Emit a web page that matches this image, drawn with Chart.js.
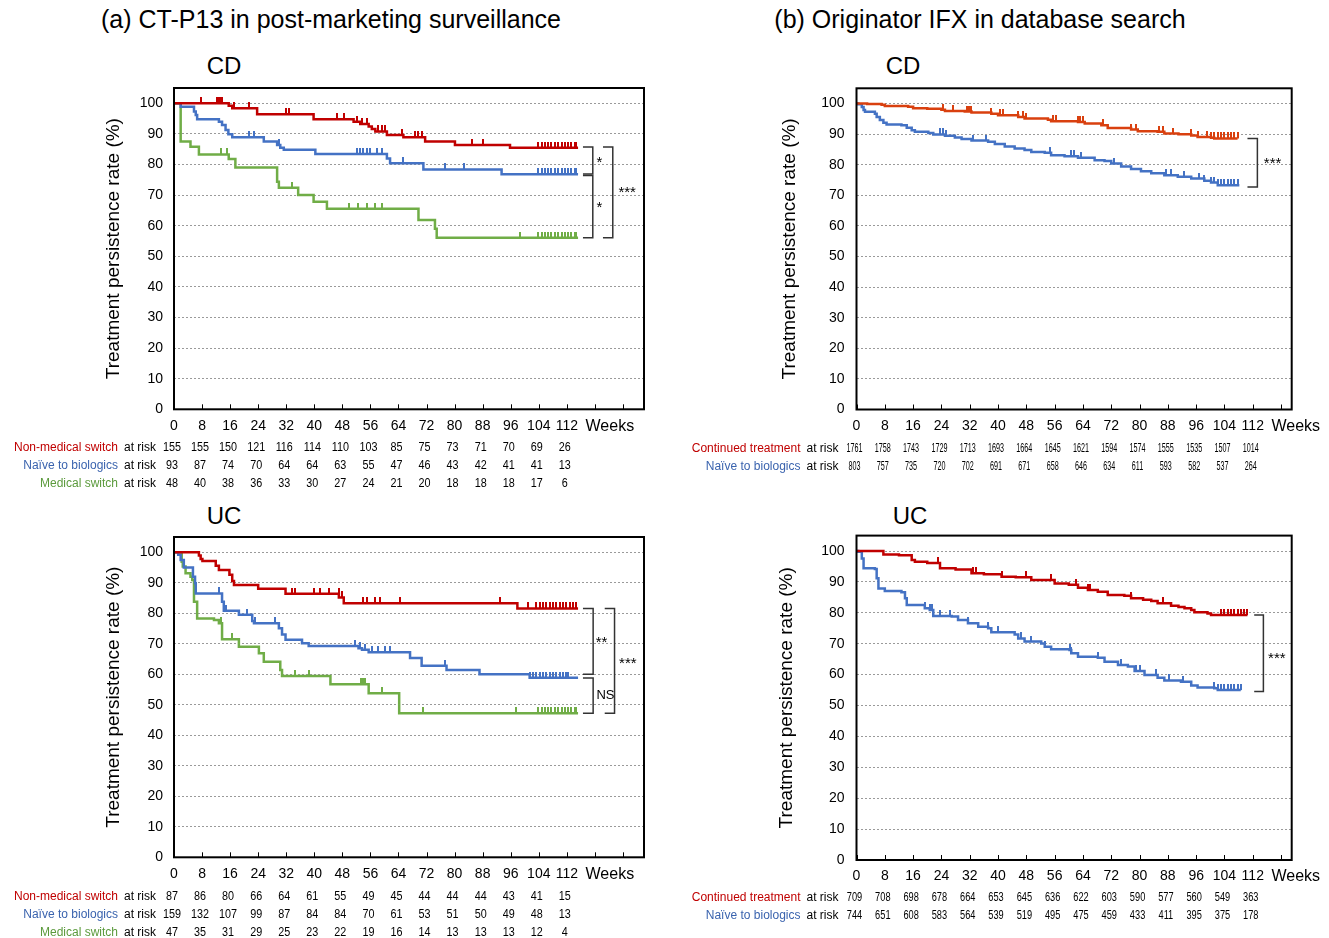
<!DOCTYPE html>
<html>
<head>
<meta charset="utf-8">
<script src="https://cdn.jsdelivr.net/npm/chart.js@4.4.1/dist/chart.umd.min.js"></script>
<style>
  body { margin: 0; width: 1329px; height: 938px; background: #fff; overflow: hidden; position: relative;
         font-family: "Liberation Sans", Arial, sans-serif; }
  .t { position: absolute; color: #000; white-space: nowrap; transform: translateX(-50%); line-height: 1; }
  canvas { position: absolute; }
</style>
</head>
<body>
<div class="t" style="left:331px;top:7px;font-size:25px">(a) CT-P13 in post-marketing surveillance</div>
<div class="t" style="left:980px;top:7px;font-size:25px">(b) Originator IFX in database search</div>
<div class="t" style="left:224px;top:54px;font-size:24px">CD</div>
<div class="t" style="left:903px;top:54px;font-size:24px">CD</div>
<div class="t" style="left:224px;top:504px;font-size:24px">UC</div>
<div class="t" style="left:910px;top:504px;font-size:24px">UC</div>

<canvas id="cdA" width="665" height="420" style="left:0;top:80px"></canvas>
<canvas id="ucA" width="665" height="408" style="left:0;top:530px"></canvas>
<canvas id="cdB" width="664" height="420" style="left:665px;top:80px"></canvas>
<canvas id="ucB" width="664" height="408" style="left:665px;top:530px"></canvas>

<script>
// week ticks shared by all four panels (also the columns of the at-risk tables)
const weekTicks = [0, 8, 16, 24, 32, 40, 48, 56, 64, 72, 80, 88, 96, 104, 112];
const rateTicks = [0, 10, 20, 30, 40, 50, 60, 70, 80, 90, 100];

// ---- (a) CD, CT-P13 : steps are [week, persistence %] ----
const cdA_nonMedical = [[0,100],[15.6,99.2],[16.6,98.4],[23.7,96.4],[39.8,94.8],[51.2,94.0],[53.1,93.2],[55.5,92.4],
  [56.4,91.6],[57.4,90.8],[60.7,89.6],[65.4,88.9],[71.6,87.5],[80.1,86.4],[95.8,85.5],[115.2,85.5]];
const cdA_naive = [[0,100],[1.9,98.9],[5.7,97.3],[6.2,96.2],[6.6,94.8],[12.8,94.0],[13.7,92.9],[14.7,91.3],[15.5,89.9],
  [16.6,88.9],[25.6,87.5],[29.4,86.4],[30.3,85.5],[31.3,84.8],[40.3,83.4],[60.7,82.0],[61.6,80.4],[71.1,78.4],[93.4,76.8],[115.2,76.8]];
const cdA_medical = [[0,100],[1.9,87.5],[4.7,85.8],[7.1,83.3],[15.6,81.8],[17.5,79.0],[29.4,74.4],[29.9,72.4],[35.4,70.0],
  [39.8,67.8],[43.6,65.5],[69.7,61.9],[74.4,59.0],[74.9,56.1],[115.2,56.1]];
const cdA_nonMedicalCens = [7.8,12.3,12.8,13.3,13.7,17.1,21.3,31.8,32.7,46.5,48.4,52.1,53.6,55.0,58.3,59.2,60.2,64.9,68.7,69.7,70.6,
  84.9,88.1,103.8,104.8,105.7,106.7,107.6,108.6,109.5,110.5,111.4,112.4,113.3,114.3,114.7];
const cdA_naiveCens = [21.3,22.7,29.9,52.1,53.1,54.0,55.0,55.9,57.8,59.2,65.4,77.2,82.8,103.8,104.8,105.7,106.7,107.6,108.6,
  109.5,110.5,111.4,112.4,113.3,114.3,114.7];
const cdA_medicalCens = [13.3,15.2,33.7,49.8,52.6,55.0,57.4,59.2,98.6,103.8,104.8,105.7,106.7,107.6,108.6,109.5,110.5,111.4,
  112.4,113.3,114.3,114.7];
const cdA_riskNonMedical = [155,155,150,121,116,114,110,103,85,75,73,71,70,69,26];
const cdA_riskNaive = [93,87,74,70,64,64,63,55,47,46,43,42,41,41,13];
const cdA_riskMedical = [48,40,38,36,33,30,27,24,21,20,18,18,18,17,6];

// ---- (a) UC, CT-P13 ----
const ucA_nonMedical = [[0,100],[7.1,98.9],[7.6,97.8],[8.1,97.1],[11.9,95.6],[12.8,94.2],[15.8,92.6],[16.6,90.6],[17.1,89.3],
  [24.0,88.0],[31.8,86.4],[47.0,85.2],[48.4,83.3],[97.9,81.6],[115.2,81.6]];
const ucA_naive = [[0,100],[1.2,99.2],[1.9,97.5],[2.8,95.0],[5.4,92.0],[6.0,89.8],[6.2,86.5],[13.7,83.8],[14.2,80.8],[18.5,79.5],
  [22.3,77.5],[22.8,76.7],[29.9,75.1],[30.8,73.0],[31.8,71.3],[36.5,70.2],[38.4,69.3],[52.6,68.5],[53.6,68.0],[55.5,67.2],
  [67.3,65.3],[70.6,62.8],[77.7,61.4],[87.1,60.0],[101.4,58.9],[115.2,58.9]];
const ucA_medical = [[0,100],[2.2,96.9],[2.5,95.3],[3.3,93.1],[4.7,92.0],[5.2,90.9],[5.7,83.8],[6.6,78.3],[11.4,77.8],[12.8,76.7],
  [13.7,71.5],[18.5,69.0],[24.2,66.9],[25.6,64.1],[30.3,61.4],[30.8,59.4],[44.6,56.7],[55.5,53.8],[64.2,47.2],[115.2,47.2]];
const ucA_nonMedicalCens = [33.7,34.6,39.8,41.7,44.3,46.9,47.9,54.0,55.0,57.4,58.8,64.5,92.9,101.0,103.3,104.3,105.2,106.2,
  107.1,108.1,109.0,110.0,111.0,111.9,112.9,113.8,114.7];
const ucA_naiveCens = [12.8,14.7,20.9,23.2,28.9,29.9,51.7,53.1,54.5,56.4,58.3,60.2,61.6,77.2,101.4,102.4,103.3,104.3,105.2,
  106.2,107.1,108.1,109.0,110.0,111.0,111.9,112.3];
const ucA_medicalCens = [13.3,16.6,34.6,38.4,53.4,53.8,54.1,54.5,59.2,71.1,97.6,103.8,104.8,105.7,106.7,107.6,108.6,109.5,
  110.5,111.4,112.4,113.3,114.3,114.7];
const ucA_riskNonMedical = [87,86,80,66,64,61,55,49,45,44,44,44,43,41,15];
const ucA_riskNaive = [159,132,107,99,87,84,84,70,61,53,51,50,49,48,13];
const ucA_riskMedical = [47,35,31,29,25,23,22,19,16,14,13,13,13,12,4];

// ---- (b) CD, originator IFX ----
const cdB_continued = [[0,100],[3.0,99.9],[7.1,99.6],[8.0,99.2],[14.6,99.0],[16.0,98.5],[20.0,98.3],[24.0,98.0],[25.0,97.6],
  [30.6,97.4],[32.5,97.1],[38.1,96.7],[40.0,96.2],[45.7,95.6],[47.5,95.1],[54.1,94.7],[55.0,94.2],[62.6,94.0],[64.5,93.5],
  [69.2,92.9],[71.0,92.0],[77.6,91.5],[79.5,91.0],[85.1,90.8],[87.0,90.2],[91.0,90.0],[94.6,89.6],[96.4,89.1],[100.2,88.8],
  [101.1,88.6],[107.7,88.6]];
const cdB_naive = [[0,100],[0.5,99.8],[1.5,98.9],[2.0,97.9],[2.4,97.3],[5.2,96.7],[5.7,95.6],[6.6,94.6],[7.6,93.7],[8.5,93.2],
  [12.7,92.9],[14.2,92.1],[15.6,91.3],[16.5,90.8],[20.3,90.4],[21.7,89.9],[25.0,89.5],[27.8,88.9],[29.7,88.4],[32.5,87.9],
  [37.2,87.5],[39.1,86.8],[41.9,86.0],[44.7,85.3],[47.5,84.8],[49.4,84.2],[53.2,83.9],[55.0,83.1],[58.8,82.8],[62.6,82.3],
  [67.3,81.5],[70.1,81.2],[72.0,80.4],[74.8,79.4],[77.6,78.6],[80.4,77.9],[83.3,77.2],[87.0,76.6],[90.8,76.1],[94.6,75.5],
  [98.3,74.8],[100.2,74.2],[102.1,73.3],[108.2,73.3]];
const cdB_continuedCens = [24.5,27.3,31.1,31.7,32.5,38.1,40.5,41.4,45.7,47.1,48.0,55.5,56.5,62.6,63.3,64.0,69.6,77.6,79.0,85.6,
  86.6,89.4,94.6,96.4,99.2,100.2,101.1,102.1,103.0,104.0,104.9,105.8,106.8,107.7];
const cdB_naiveCens = [23.6,24.5,25.4,32.9,36.7,54.6,60.7,61.6,63.5,72.9,87.5,88.9,92.7,96.9,98.3,100.2,101.1,102.1,103.0,
  104.0,104.9,105.8,106.8,107.7];
const cdB_riskContinued = [1761,1758,1743,1729,1713,1693,1664,1645,1621,1594,1574,1555,1535,1507,1014];
const cdB_riskNaive = [803,757,735,720,702,691,671,658,646,634,611,593,582,537,264];

// ---- (b) UC, originator IFX ----
const ucB_continued = [[0,100],[7.6,98.9],[12.0,98.6],[15.6,97.1],[16.5,96.5],[20.0,96.1],[23.6,94.4],[28.0,94.0],[32.5,92.8],
  [36.0,92.5],[41.0,91.7],[45.0,91.5],[49.4,90.6],[56.0,89.5],[60.0,89.1],[62.6,88.1],[65.4,87.4],[68.2,86.8],[71.0,85.8],
  [75.7,85.5],[77.6,84.7],[81.0,84.2],[83.3,83.8],[85.1,83.1],[88.9,82.3],[91.0,81.9],[92.7,81.5],[94.6,80.9],[95.5,80.2],
  [99.2,79.8],[100.2,79.3],[110.5,79.3]];
const ucB_naive = [[0,100],[0.5,99.8],[1.5,97.6],[2.0,94.4],[5.2,94.2],[5.7,91.2],[6.2,87.9],[8.0,87.1],[12.7,86.7],[13.7,84.7],
  [14.2,82.5],[19.3,81.5],[20.7,80.9],[21.7,79.0],[26.9,78.8],[28.7,77.7],[31.5,76.6],[34.4,75.5],[37.2,75.0],[38.1,73.7],
  [44.7,73.0],[45.7,71.7],[47.5,70.7],[52.2,70.1],[53.2,69.0],[55.0,68.2],[60.2,68.0],[60.7,66.9],[62.6,65.8],[68.2,65.5],
  [70.1,64.2],[73.9,63.1],[76.7,62.6],[78.6,61.2],[81.4,59.9],[85.1,59.0],[87.0,58.1],[91.7,57.7],[94.6,56.5],[96.4,55.8],
  [101.1,55.6],[102.1,55.0],[108.6,55.0]];
const ucB_continuedCens = [23.1,32.9,33.9,41.0,48.0,55.1,62.1,65.4,66.1,77.6,86.6,103.0,104.0,104.9,105.8,106.8,107.7,108.7,
  109.6,110.5];
const ucB_naiveCens = [19.3,20.7,21.2,23.6,26.4,31.5,37.2,40.0,46.6,49.4,53.2,60.2,60.7,68.2,74.8,79.0,80.0,84.7,88.4,92.2,
  101.1,102.1,103.0,104.0,104.9,105.8,106.8,107.7,108.6];
const ucB_riskContinued = [709,708,698,678,664,653,645,636,622,603,590,577,560,549,363];
const ucB_riskNaive = [744,651,608,583,564,539,519,495,475,459,433,411,395,375,178];

const RED = "#c00000", BLUE = "#4472c4", GREEN = "#70ad47", ORANGE = "#d9400f";
const FONT = '"Liberation Sans", Arial, sans-serif';
Chart.defaults.font.family = FONT;
Chart.defaults.color = "#000";

function levelAt(steps, t) {
  let v = steps[0][1];
  steps.forEach((s) => { if (s[0] <= t) v = s[1]; });
  return v;
}

// small upward censor tick used as a point style
function tickMark(color) {
  const c = document.createElement("canvas");
  c.width = 2;
  c.height = 12;
  const g = c.getContext("2d");
  g.fillStyle = color;
  g.fillRect(0, 0, 2, 6);
  return c;
}

function panel(id, cfg) {
  const datasets = [];
  cfg.series.forEach((s) => {
    datasets.push({
      data: s.steps.map(([x, y]) => ({ x, y })),
      borderColor: s.color,
      borderWidth: 2.5,
      stepped: "before",
      pointRadius: 0,
      fill: false,
    });
    datasets.push({
      data: s.cens.map((t) => ({ x: t, y: levelAt(s.steps, t) })),
      showLine: false,
      pointStyle: tickMark(s.color),
      pointRadius: 3,
      borderColor: s.color,
      backgroundColor: s.color,
    });
  });

  const decor = {
    id: "decor" + id,
    afterDatasetsDraw(chart) {
      const { ctx, chartArea: a, scales } = chart;
      const xs = scales.x, ys = scales.y;
      ctx.save();
      // frame
      ctx.strokeStyle = "#000";
      ctx.lineWidth = 2;
      ctx.strokeRect(a.left, a.top, a.right - a.left, a.bottom - a.top);
      // inner tick marks on the week axis
      ctx.lineWidth = 1;
      for (let w = 0; w <= cfg.xMax; w += 8) {
        const px = Math.round(xs.getPixelForValue(w)) + 0.5;
        ctx.beginPath();
        ctx.moveTo(px, a.bottom);
        ctx.lineTo(px, a.bottom - 5);
        ctx.stroke();
      }
      // Weeks label
      ctx.fillStyle = "#000";
      ctx.font = "16px " + FONT;
      ctx.textAlign = "center";
      ctx.textBaseline = "middle";
      ctx.fillText("Weeks", xs.getPixelForValue(112) + 43, a.bottom + 17);
      // significance brackets
      ctx.strokeStyle = "#333";
      ctx.lineWidth = 1.5;
      cfg.brackets.forEach((b) => {
        const x1 = xs.getPixelForValue(b.x1), x2 = xs.getPixelForValue(b.x2);
        const y1 = ys.getPixelForValue(b.y1), y2 = ys.getPixelForValue(b.y2);
        ctx.beginPath();
        ctx.moveTo(x1, y1);
        ctx.lineTo(x2, y1);
        ctx.lineTo(x2, y2);
        ctx.lineTo(x1, y2);
        ctx.stroke();
        ctx.font = (b.text === "NS" ? "13px " : "15px ") + FONT;
        ctx.fillText(b.text, xs.getPixelForValue(b.tx), ys.getPixelForValue(b.ty));
      });
      // number-at-risk table
      cfg.series.forEach((s, i) => {
        const y = a.bottom + cfg.rowY[i];
        ctx.font = "12px " + FONT;
        ctx.textAlign = "right";
        ctx.fillStyle = s.textColor;
        ctx.fillText(s.label, a.left - 56, y);
        ctx.textAlign = "left";
        ctx.fillStyle = "#000";
        ctx.fillText("at risk", a.left - 50, y);
        ctx.textAlign = "center";
        s.risk.forEach((n, j) => {
          ctx.save();
          ctx.translate(xs.getPixelForValue(weekTicks[j]) - 2, y);
          ctx.scale(cfg.numScale, 1);
          ctx.fillText(String(n), 0, 0);
          ctx.restore();
        });
      });
      ctx.restore();
    },
  };

  new Chart(document.getElementById(id), {
    type: "line",
    data: { datasets },
    options: {
      responsive: false,
      animation: false,
      events: [],
      layout: { padding: { left: cfg.padLeft, top: cfg.padTop, right: cfg.padRight, bottom: 0 } },
      plugins: { legend: { display: false }, tooltip: { enabled: false } },
      scales: {
        x: {
          type: "linear",
          min: 0,
          max: cfg.xMax,
          afterBuildTicks: (s) => { s.ticks = weekTicks.map((v) => ({ value: v })); },
          afterFit: (s) => {
            s.height = cfg.xHeight;
            s.paddingLeft = 0;
            s.paddingRight = 0;
          },
          ticks: { autoSkip: false, maxRotation: 0, padding: 8, font: { size: 14 }, color: "#000" },
          grid: { display: false, drawTicks: false },
          border: { display: false },
        },
        y: {
          min: 0,
          max: 105,
          afterBuildTicks: (s) => { s.ticks = rateTicks.map((v) => ({ value: v })); },
          afterFit: (s) => {
            s.width = cfg.yWidth;
            s.paddingTop = 0;
            s.paddingBottom = 0;
          },
          ticks: { autoSkip: false, padding: cfg.yPad, font: { size: 14 }, color: "#000" },
          grid: { color: "#9a9a9a", lineWidth: 1, drawTicks: false },
          border: { display: false, dash: [2, 2] },
          title: {
            display: true,
            text: "Treatment persistence rate (%)",
            font: { size: 19 },
            color: "#000",
            padding: { top: 2, bottom: 0 },
          },
        },
      },
    },
    plugins: [decor],
  });
}

panel("cdA", {
  xMax: 134, padLeft: 100, padTop: 8, padRight: 21, yWidth: 74, xHeight: 90.7, yPad: 11,
  rowY: [38, 56, 74], numScale: 0.9,
  series: [
    { steps: cdA_nonMedical, cens: cdA_nonMedicalCens, color: RED, textColor: RED, label: "Non-medical switch", risk: cdA_riskNonMedical },
    { steps: cdA_naive, cens: cdA_naiveCens, color: BLUE, textColor: "#3a63ae", label: "Naïve to biologics", risk: cdA_riskNaive },
    { steps: cdA_medical, cens: cdA_medicalCens, color: GREEN, textColor: "#5b9a3c", label: "Medical switch", risk: cdA_riskMedical },
  ],
  brackets: [
    { x1: 116.6, x2: 119.4, y1: 85.7, y2: 76.9, text: "*", tx: 121.3, ty: 80.6 },
    { x1: 116.6, x2: 119.4, y1: 76.4, y2: 56.1, text: "*", tx: 121.3, ty: 65.7 },
    { x1: 122.3, x2: 125.1, y1: 85.7, y2: 56.1, text: "***", tx: 129.2, ty: 70.7 },
  ],
});

panel("ucA", {
  xMax: 134, padLeft: 100, padTop: 7, padRight: 21, yWidth: 74, xHeight: 80.7, yPad: 11,
  rowY: [39, 57, 75], numScale: 0.9,
  series: [
    { steps: ucA_nonMedical, cens: ucA_nonMedicalCens, color: RED, textColor: RED, label: "Non-medical switch", risk: ucA_riskNonMedical },
    { steps: ucA_naive, cens: ucA_naiveCens, color: BLUE, textColor: "#3a63ae", label: "Naïve to biologics", risk: ucA_riskNaive },
    { steps: ucA_medical, cens: ucA_medicalCens, color: GREEN, textColor: "#5b9a3c", label: "Medical switch", risk: ucA_riskMedical },
  ],
  brackets: [
    { x1: 116.6, x2: 119.5, y1: 81.6, y2: 60.0, text: "**", tx: 121.9, ty: 70.2 },
    { x1: 116.6, x2: 119.5, y1: 58.8, y2: 47.2, text: "NS", tx: 123.0, ty: 53.0 },
    { x1: 122.8, x2: 125.6, y1: 81.6, y2: 47.2, text: "***", tx: 129.4, ty: 63.4 },
  ],
});

panel("cdB", {
  xMax: 123, padLeft: 111.6, padTop: 8.3, padRight: 37.3, yWidth: 79.9, xHeight: 90.5, yPad: 12,
  rowY: [39, 57], numScale: 0.6,
  series: [
    { steps: cdB_continued, cens: cdB_continuedCens, color: ORANGE, textColor: RED, label: "Continued treatment", risk: cdB_riskContinued },
    { steps: cdB_naive, cens: cdB_naiveCens, color: BLUE, textColor: "#3a63ae", label: "Naïve to biologics", risk: cdB_riskNaive },
  ],
  brackets: [
    { x1: 110.5, x2: 113.3, y1: 88.6, y2: 72.7, text: "***", tx: 117.6, ty: 80.4 },
  ],
});

panel("ucB", {
  xMax: 123, padLeft: 108.6, padTop: 5.6, padRight: 37.3, yWidth: 82.9, xHeight: 78, yPad: 12,
  rowY: [38, 56], numScale: 0.77,
  series: [
    { steps: ucB_continued, cens: ucB_continuedCens, color: RED, textColor: RED, label: "Continued treatment", risk: ucB_riskContinued },
    { steps: ucB_naive, cens: ucB_naiveCens, color: BLUE, textColor: "#3a63ae", label: "Naïve to biologics", risk: ucB_riskNaive },
  ],
  brackets: [
    { x1: 112.4, x2: 115.0, y1: 79.3, y2: 54.5, text: "***", tx: 118.8, ty: 65.0 },
  ],
});
</script>
</body>
</html>
